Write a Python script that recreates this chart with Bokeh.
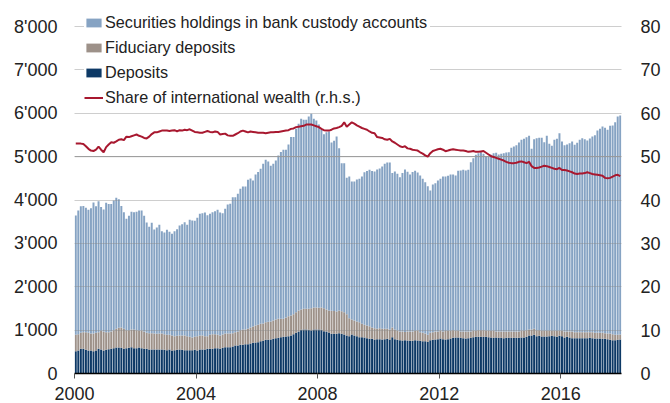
from bokeh.plotting import figure
from bokeh.models import (ColumnDataSource, Range1d, LinearAxis, FixedTicker,
                          Legend, LegendItem, Span)
from bokeh.embed import file_html
from bokeh.resources import INLINE

# ---------------- data (monthly, Jan 2000 - Dec 2017), CHF bn ----------------
years = list(range(2000, 2018))

deposits = [
    515, 530, 569, 569, 546, 530, 530, 515, 530, 569, 553, 530,
    546, 561, 569, 584, 599, 599, 592, 569, 584, 592, 607, 584,
    584, 599, 584, 569, 569, 553, 553, 553, 553, 553, 553, 546,
    538, 553, 530, 538, 546, 553, 546, 538, 538, 538, 538, 546,
    530, 553, 553, 553, 569, 569, 569, 584, 584, 569, 592, 607,
    607, 607, 622, 646, 646, 661, 661, 676, 676, 692, 707, 715,
    722, 745, 753, 776, 776, 784, 799, 815, 822, 838, 845, 853,
    861, 876, 907, 937, 968, 1007, 1014, 1014, 1007, 999, 1014, 1014,
    1014, 1007, 976, 968, 945, 915, 915, 915, 930, 915, 899, 876,
    861, 899, 876, 861, 838, 838, 830, 815, 799, 799, 784, 792,
    792, 784, 792, 799, 784, 838, 792, 776, 768, 761, 768, 761,
    753, 753, 768, 761, 753, 745, 745, 730, 768, 776, 784, 792,
    807, 792, 784, 792, 807, 822, 830, 830, 822, 815, 807, 815,
    822, 838, 845, 845, 845, 845, 845, 838, 830, 822, 830, 822,
    822, 815, 822, 822, 822, 822, 822, 822, 830, 830, 845, 876,
    876, 891, 861, 868, 853, 853, 853, 861, 868, 861, 845, 868,
    861, 830, 845, 830, 815, 815, 815, 815, 815, 815, 815, 822,
    815, 807, 807, 807, 799, 799, 792, 776, 768, 768, 776, 784,
]

fiduciary = [
    376, 377, 368, 384, 407, 407, 392, 407, 407, 384, 431, 438,
    407, 392, 399, 415, 431, 454, 469, 461, 415, 407, 407, 430,
    415, 392, 407, 399, 368, 377, 377, 369, 362, 369, 369, 361,
    353, 338, 346, 323, 322, 323, 330, 338, 323, 307, 292, 299,
    331, 323, 323, 308, 292, 322, 338, 323, 307, 307, 307, 315,
    315, 315, 308, 307, 322, 338, 353, 338, 354, 369, 377, 392,
    400, 400, 400, 408, 415, 415, 423, 430, 438, 422, 415, 438,
    461, 461, 461, 477, 484, 469, 477, 477, 484, 507, 508, 508,
    500, 515, 530, 508, 507, 530, 525, 514, 522, 522, 515, 492,
    415, 346, 346, 338, 346, 307, 292, 292, 292, 262, 261, 238,
    253, 246, 238, 231, 230, 223, 222, 208, 200, 207, 190, 207,
    215, 215, 216, 230, 200, 192, 177, 165, 169, 177, 184, 176,
    177, 176, 195, 192, 177, 177, 154, 154, 146, 153, 161, 153,
    146, 146, 139, 154, 154, 154, 146, 146, 154, 162, 138, 146,
    146, 153, 146, 146, 146, 146, 146, 146, 154, 154, 154, 138,
    138, 139, 138, 131, 131, 131, 131, 123, 116, 123, 139, 115,
    123, 138, 123, 138, 153, 138, 138, 138, 138, 138, 138, 131,
    138, 130, 130, 130, 138, 131, 130, 146, 139, 123, 115, 115,
]

securities = [
    2752, 2851, 2920, 2907, 2867, 2837, 2890, 3020, 2920, 3020, 2852, 2813,
    2982, 2952, 2937, 2990, 3020, 2967, 2799, 2689, 2567, 2636, 2713, 2705,
    2728, 2767, 2767, 2667, 2544, 2451, 2544, 2398, 2451, 2505, 2359, 2344,
    2421, 2375, 2344, 2420, 2459, 2536, 2567, 2613, 2566, 2698, 2697, 2675,
    2728, 2805, 2820, 2851, 2789, 2790, 2813, 2836, 2882, 2836, 2797, 2874,
    2974, 2990, 3136, 3113, 3175, 3259, 3298, 3298, 3436, 3436, 3366, 3482,
    3521, 3575, 3682, 3744, 3698, 3590, 3613, 3667, 3768, 3844, 3898, 3867,
    3959, 4113, 4082, 4229, 4306, 4397, 4359, 4359, 4436, 4483, 4351, 4313,
    4227, 4096, 4012, 4088, 4127, 3880, 3927, 4035, 3743, 3413, 3436, 3144,
    3267, 3182, 3205, 3274, 3305, 3398, 3520, 3559, 3605, 3605, 3613, 3674,
    3682, 3743, 3805, 3836, 3852, 3559, 3644, 3620, 3559, 3652, 3743, 3682,
    3621, 3675, 3689, 3644, 3613, 3552, 3490, 3421, 3283, 3404, 3420, 3482,
    3504, 3574, 3565, 3573, 3604, 3589, 3581, 3688, 3712, 3727, 3712, 3727,
    3904, 3980, 4057, 4081, 4104, 4065, 4020, 4019, 4057, 4096, 4119, 4081,
    4096, 4112, 4127, 4135, 4235, 4265, 4296, 4358, 4403, 4426, 4450, 4465,
    4166, 4373, 4427, 4434, 4449, 4349, 4495, 4311, 4265, 4403, 4426, 4557,
    4365, 4296, 4312, 4342, 4381, 4319, 4365, 4434, 4473, 4450, 4419, 4465,
    4511, 4558, 4665, 4704, 4758, 4734, 4696, 4788, 4811, 4904, 5034, 5049,
]

share = [
    53.0, 53.0, 53.0, 52.9, 52.4, 51.8, 51.4, 51.3, 51.6, 52.3, 51.6, 51.0,
    52.2, 52.8, 53.3, 53.2, 53.5, 53.9, 54.0, 53.8, 54.6, 54.5, 54.7, 54.9,
    55.1, 54.8, 54.6, 54.3, 54.2, 54.6, 55.2, 55.6, 55.6, 55.8, 56.0, 56.0,
    56.0, 55.9, 56.0, 56.1, 55.8, 56.1, 56.0, 56.2, 56.1, 56.3, 56.0, 55.7,
    55.6, 55.5, 55.5, 55.7, 55.9, 55.7, 55.6, 55.8, 55.7, 55.1, 55.2, 55.3,
    54.9, 54.8, 54.8, 55.1, 55.4, 55.8, 56.0, 55.8, 55.6, 55.8, 55.7, 55.6,
    55.5, 55.5, 55.5, 55.4, 55.5, 55.6, 55.6, 55.7, 55.7, 55.8, 55.9, 56.0,
    56.1, 56.4, 56.5, 56.8, 56.9, 57.0, 57.1, 57.4, 57.4, 57.4, 57.2, 57.0,
    56.8, 56.4, 56.1, 56.0, 56.0, 56.2, 56.5, 56.6, 56.8, 57.1, 57.9, 56.9,
    57.4, 57.9, 57.6, 57.2, 56.9, 56.6, 56.4, 56.2, 55.8, 55.5, 55.4, 54.5,
    54.4, 54.3, 54.0, 53.9, 54.1, 53.5, 53.2, 52.8, 52.4, 52.2, 52.4, 51.9,
    51.8, 51.6, 51.5, 51.4, 51.0, 50.7, 50.3, 50.0, 50.8, 51.3, 51.5, 51.7,
    51.8, 51.6, 51.25, 51.4, 51.6, 51.7, 51.6, 51.5, 51.4, 51.4, 51.3, 51.1,
    51.2, 51.3, 51.1, 51.1, 51.2, 51.3, 50.9, 50.5, 50.1, 49.9, 49.7, 49.5,
    49.3, 49.1, 48.8, 48.6, 48.5, 48.5, 48.6, 48.8, 48.9, 48.7, 48.5, 48.8,
    47.8, 47.4, 47.4, 47.5, 47.7, 47.9, 47.8, 47.6, 47.4, 47.2, 47.1, 47.4,
    46.9, 46.9, 46.8, 46.6, 46.4, 46.1, 46.0, 46.1, 46.1, 46.2, 46.4, 46.2,
    46.0, 45.9, 45.8, 45.7, 45.6, 45.1, 45.0, 45.1, 45.4, 45.7, 45.8, 45.5,
]

series_names = ["Securities holdings in bank custody accounts",
                "Fiduciary deposits",
                "Deposits",
                "Share of international wealth (r.h.s.)"]

x_ticks = [2000, 2004, 2008, 2012, 2016]
x_tick_labels = ["2000", "2004", "2008", "2012", "2016"]
left_ticks = [0, 1000, 2000, 3000, 4000, 5000, 6000, 7000, 8000]
left_tick_labels = ["0", "1'000", "2'000", "3'000", "4'000", "5'000",
                    "6'000", "7'000", "8'000"]
right_ticks = [0, 10, 20, 30, 40, 50, 60, 70, 80]
right_tick_labels = ["0", "10", "20", "30", "40", "50", "60", "70", "80"]

# ---------------- styles / layout ----------------
FONT = "Liberation Sans"
TXT = "#222222"
C_SEC = "#86a3c3"
C_FID = "#9d9189"
C_DEP = "#0d3966"
C_LINE = "#a8182f"

W, H = 670, 403
F_LEFT, F_RIGHT, F_TOP, F_BOTTOM = 74, 621, 1, 373   # frame edges (px)
TOP_TICK_PX = 26                                     # where 8'000 sits
y_end = 8000 * (F_BOTTOM - F_TOP) / (F_BOTTOM - TOP_TICK_PX)
r_end = 80 * (F_BOTTOM - F_TOP) / (F_BOTTOM - TOP_TICK_PX)

# month centres as decimal years
xpos = [y + (m + 0.5) / 12.0 for y in years for m in range(12)]

src = ColumnDataSource(dict(x=xpos, deposits=deposits, fiduciary=fiduciary,
                            securities=securities, share=share))

p = figure(width=W, height=H, output_backend="svg", toolbar_location=None,
           x_range=Range1d(2000, 2018), y_range=Range1d(0, y_end),
           min_border_left=F_LEFT, min_border_right=W - F_RIGHT,
           min_border_top=F_TOP, min_border_bottom=H - F_BOTTOM,
           outline_line_color=None,
           background_fill_color="white", border_fill_color="white")
p.extra_y_ranges = {"share": Range1d(0, r_end)}

bars = p.vbar_stack(["deposits", "fiduciary", "securities"], x="x",
                    width=0.78 / 12, color=[C_DEP, C_FID, C_SEC],
                    line_alpha=0, source=src)

ln = p.line("x", "share", source=src, y_range_name="share",
            line_color=C_LINE, line_width=2, level="overlay")

# grid
p.xgrid.visible = False
p.ygrid.ticker = FixedTicker(ticks=left_ticks)
p.ygrid.grid_line_color = "#8a8a8a"
p.ygrid.grid_line_alpha = 0.42
p.ygrid.level = "guide"
p.add_layout(Span(location=5000, dimension="width", line_color="#999999",
                  line_width=1, level="guide"))

# left axis
ya = p.yaxis[0]
ya.ticker = FixedTicker(ticks=left_ticks)
ya.major_label_overrides = dict(zip(left_ticks, left_tick_labels))
ya.axis_line_color = None
ya.major_tick_line_color = None
ya.minor_tick_line_color = None
ya.major_tick_out = 0
ya.major_tick_in = 0
ya.major_label_standoff = 17
ya.major_label_text_font = FONT
ya.major_label_text_font_size = "18px"
ya.major_label_text_color = TXT

# right axis
ra = LinearAxis(y_range_name="share", ticker=FixedTicker(ticks=right_ticks))
ra.major_label_overrides = dict(zip(right_ticks, right_tick_labels))
ra.axis_line_color = None
ra.major_tick_line_color = None
ra.minor_tick_line_color = None
ra.major_tick_out = 0
ra.major_tick_in = 0
ra.major_label_standoff = 19
ra.major_label_text_font = FONT
ra.major_label_text_font_size = "18px"
ra.major_label_text_color = TXT
p.add_layout(ra, "right")

# bottom axis
xa = p.xaxis[0]
xa.ticker = FixedTicker(ticks=x_ticks)
xa.major_label_overrides = dict(zip(x_ticks, x_tick_labels))
xa.axis_line_color = "black"
xa.axis_line_width = 1.5
xa.major_tick_line_color = "#555555"
xa.major_tick_out = 5
xa.major_tick_in = 0
xa.minor_tick_line_color = None
xa.major_label_standoff = 8
xa.major_label_text_font = FONT
xa.major_label_text_font_size = "18px"
xa.major_label_text_color = TXT

PAD = 5
legend_h = 2 * PAD + 4 * 22 + 3 * 3
legend = Legend(items=[
    LegendItem(label=series_names[0], renderers=[bars[2]]),
    LegendItem(label=series_names[1], renderers=[bars[1]]),
    LegendItem(label=series_names[2], renderers=[bars[0]]),
    LegendItem(label=series_names[3], renderers=[ln]),
], location=(10, (F_BOTTOM - F_TOP) - legend_h), padding=PAD, margin=0,
    spacing=3, glyph_width=19, glyph_height=11, label_height=22,
    label_standoff=2, label_width=325, label_text_font=FONT,
    label_text_font_size="16.2px", label_text_color=TXT,
    background_fill_color="white", background_fill_alpha=1.0,
    border_line_color=None)
p.add_layout(legend)

open("out.html", "w").write(file_html(p, INLINE))
